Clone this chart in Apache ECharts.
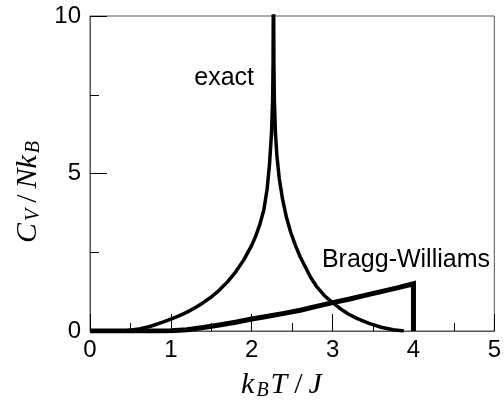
<!DOCTYPE html>
<html>
<head>
<meta charset="utf-8">
<script src="https://cdn.jsdelivr.net/npm/echarts@6/dist/echarts.min.js"></script>
<style>
  html, body { margin: 0; padding: 0; background: #fff; }
  #chart { width: 504px; height: 401px; }
</style>
</head>
<body>
<div id="chart"></div>
<script>
// Heat capacity of the 2D square-lattice Ising model: exact (Onsager) vs Bragg-Williams mean field
const exactT = [0, 0.3, 0.45, 0.6, 0.75, 0.9, 1.0, 1.1, 1.2, 1.3, 1.4, 1.5, 1.6, 1.7, 1.8, 1.9, 2.0,
  2.05, 2.1, 2.15, 2.19, 2.22, 2.245, 2.258, 2.264, 2.269, 2.274, 2.28, 2.293, 2.31, 2.34, 2.38,
  2.43, 2.48, 2.54, 2.6, 2.66, 2.73, 2.8, 2.9, 3.0, 3.1, 3.2, 3.3, 3.45, 3.6, 3.75, 3.88];
const exactC = [0, 0, 0.01, 0.06, 0.15, 0.28, 0.38, 0.48, 0.6, 0.74, 0.9, 1.08, 1.3, 1.56, 1.87, 2.25, 2.72,
  3.02, 3.38, 3.85, 4.5, 5.3, 6.3, 7.3, 8.5, 12, 8.5, 7.3, 6.3, 5.6, 4.85, 4.2,
  3.6, 3.15, 2.72, 2.35, 2.05, 1.7, 1.42, 1.12, 0.9, 0.7, 0.53, 0.4, 0.24, 0.12, 0.04, 0];

const bwT = [0, 0.8, 1.0, 1.2, 1.4, 1.6, 1.8, 2.0, 2.2, 2.4, 2.6, 2.8, 3.0, 3.2, 3.4, 3.6, 3.8, 4.0, 4.0];
const bwC = [0, 0, 0.01, 0.04, 0.11, 0.19, 0.28, 0.38, 0.47, 0.56, 0.66, 0.78, 0.9, 1.01, 1.13, 1.25, 1.37, 1.5, 0];

const xTicks = [0, 1, 2, 3, 4, 5];
const yTicks = [0, 5, 10];

const pairs = (xs, ys) => xs.map((x, i) => [x, ys[i]]);

const chart = echarts.init(document.getElementById('chart'), null, { renderer: 'canvas' });

const labelFont = { fontFamily: 'Liberation Sans', fontSize: 24, color: '#000' };
const noteFont = { fontFamily: 'Liberation Sans', fontSize: 25, color: '#000' };
const serif = 'Liberation Serif';
const mainTok = { fontFamily: serif, fontStyle: 'italic', fontSize: 30, color: '#000', lineHeight: 32, verticalAlign: 'middle', padding: [0, 2, 0, 1] };
const subTok = { fontFamily: serif, fontStyle: 'italic', fontSize: 20, color: '#000', lineHeight: 18, verticalAlign: 'bottom', padding: [0, 1, 0, 0] };
const slashTok = { fontFamily: serif, fontSize: 30, color: '#000', lineHeight: 32, verticalAlign: 'middle', padding: [0, 5, 0, 5] };

chart.setOption({
  animation: false,
  grid: { left: 90, right: 7, top: 16, bottom: 70, show: true, borderColor: '#555', borderWidth: 1 },
  xAxis: {
    type: 'value', min: xTicks[0], max: xTicks[xTicks.length - 1], interval: 1,
    axisLine: { onZero: false, lineStyle: { color: '#555', width: 1 } },
    axisTick: { inside: true, length: 17, lineStyle: { color: '#000', width: 1 } },
    minorTick: { show: true, splitNumber: 2, length: 8, lineStyle: { color: '#000', width: 1 } },
    splitLine: { show: false },
    axisLabel: Object.assign({ margin: 7 }, labelFont)
  },
  yAxis: {
    type: 'value', min: yTicks[0], max: yTicks[yTicks.length - 1], interval: 5,
    axisLine: { onZero: false, lineStyle: { color: '#555', width: 1 } },
    axisTick: { inside: true, length: 17, lineStyle: { color: '#000', width: 1 } },
    minorTick: { show: true, splitNumber: 2, length: 9, lineStyle: { color: '#000', width: 1 } },
    splitLine: { show: false },
    axisLabel: Object.assign({ margin: 9 }, labelFont)
  },
  series: [
    {
      name: 'exact', type: 'line', data: pairs(exactT, exactC), showSymbol: false, clip: true,
      lineStyle: { color: '#000', width: 3.5, join: 'round' }
    },
    {
      name: 'Bragg-Williams', type: 'line', data: pairs(bwT, bwC), showSymbol: false, clip: true,
      lineStyle: { color: '#000', width: 5, join: 'miter', cap: 'butt' }
    }
  ],
  graphic: [
    { type: 'text', x: 254, y: 91, style: Object.assign({ text: 'exact', align: 'right', verticalAlign: 'bottom' }, noteFont) },
    { type: 'text', x: 490, y: 273, style: Object.assign({ text: 'Bragg-Williams', align: 'right', verticalAlign: 'bottom' }, noteFont) },
    {
      type: 'text', x: 282, y: 385,
      style: {
        text: '{m|k}{s|B}{m|T}{sl|/}{m|J}', align: 'center', verticalAlign: 'middle',
        rich: { m: mainTok, s: subTok, sl: slashTok }
      }
    },
    {
      type: 'text', x: 28, y: 192, rotation: Math.PI / 2,
      style: {
        text: '{m|C}{s|V}{sl|/}{m|Nk}{s|B}', align: 'center', verticalAlign: 'middle',
        rich: { m: mainTok, s: subTok, sl: slashTok }
      }
    }
  ]
});
</script>
</body>
</html>
